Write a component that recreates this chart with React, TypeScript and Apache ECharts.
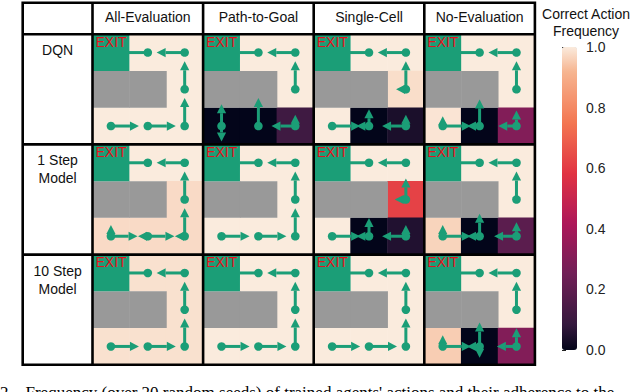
import React, { useEffect, useRef } from 'react';
import * as echarts from 'echarts';

// ---------- data ----------
const evaluations = ['All-Evaluation', 'Path-to-Goal', 'Single-Cell', 'No-Evaluation'];
const models = ['DQN', '1 Step\nModel', '10 Step\nModel'];

// maze cells as [column, row] (row 0 = top)
const openCells = [[1, 0], [2, 0], [2, 1], [0, 2], [1, 2], [2, 2]];
const wallCells = [[0, 1], [1, 1]];
const exitCells = [[0, 0]];

// correct action frequency for each open cell, one list per evaluation
const dqnValues = [
  [1, 1, 1, 1, 1, 1],
  [1, 1, 1, 0.0, 0.0, 0.11],
  [1, 1, 0.98, 1, 0.0, 0.04],
  [1, 1, 1, 0.99, 0.0, 0.3],
];
const oneStepValues = [
  [1, 1, 0.975, 0.975, 0.975, 0.975],
  [1, 1, 1, 1, 1, 1],
  [1, 1, 0.62, 1, 0.0, 0.05],
  [1, 1, 1, 0.965, 0.0, 0.19],
];
const tenStepValues = [
  [0.985, 0.985, 0.985, 0.985, 0.985, 0.985],
  [1, 1, 1, 1, 1, 1],
  [1, 1, 1, 1, 1, 1],
  [1, 1, 1, 0.955, 0.0, 0.3],
];

// action frequencies [up, down, left, right] for each open cell
const idealActions = [[0, 0, 1, 0], [0, 0, 1, 0], [1, 0, 0, 0], [0, 0, 0, 1], [0, 0, 0, 1], [1, 0, 0, 0]];
const dqnActions = [
  idealActions,
  [[0, 0, 1, 0], [0, 0, 1, 0], [1, 0, 0, 0], [0.78, 0.55, 0, 0], [1, 0, 0, 0], [0.4, 0, 0.85, 0]],
  [[0, 0, 1, 0], [0, 0, 1, 0], [1, 0, 0.35, 0], [0, 0, 0, 1], [0.6, 0, 0.45, 0], [0.4, 0, 0.85, 0]],
  [[0, 0, 1, 0], [0, 0, 1, 0], [1, 0, 0, 0], [0.35, 0, 0, 1], [0.95, 0, 0.45, 0], [0.55, 0, 0.65, 0]],
];
const oneStepActions = [
  [[0, 0, 1, 0], [0, 0, 1, 0], [1, 0, 0, 0], [0.4, 0, 0, 0.95], [0, 0, 0.35, 0.95], [1, 0, 0.35, 0]],
  idealActions,
  [[0, 0, 1, 0], [0, 0, 1, 0], [0.75, 0, 0.4, 0], [0, 0, 0, 1], [0.65, 0, 0.45, 0], [0.4, 0, 0.85, 0]],
  [[0, 0, 1, 0], [0, 0, 1, 0], [1, 0, 0, 0], [0.4, 0, 0, 1], [0.8, 0, 0.45, 0], [0.5, 0, 0.8, 0]],
];
const tenStepActions = [
  idealActions,
  idealActions,
  idealActions,
  [[0, 0, 1, 0], [0, 0, 1, 0], [1, 0, 0, 0], [0.4, 0, 0, 1], [0.85, 0.4, 0.45, 0], [0.65, 0, 0.7, 0]],
];

const modelValues = [dqnValues, oneStepValues, tenStepValues];
const modelActions = [dqnActions, oneStepActions, tenStepActions];

const colorbarTitle = 'Correct Action\nFrequency';
const caption = "2.   Frequency (over 20 random seeds) of trained agents' actions and their adherence to the";

// ---------- style ----------
const FONT = '"Liberation Sans", Arial, Helvetica, sans-serif';
const GREEN = '#1b9e77';
const GRAY = '#999999';
const ROCKET = ['#03051a', '#35193e', '#531c4a', '#701f57', '#8e1b58', '#ad1759', '#c7254e',
  '#e13342', '#ea554a', '#f37651', '#f59570', '#f6b48f', '#faebdd'];

const TABLE_L = 22.7;
const TABLE_T = 2.7;
const PANEL_L = 92.5;
const PANEL_T = 34.2;
const PANEL_W = 110.6;
const PANEL_H = 110.2;

function wallRender(params: any, api: any) {
  const c = api.coord([api.value(0), api.value(1)]);
  const s = api.size([1, 1]);
  return {
    type: 'rect',
    shape: { x: c[0] - s[0] / 2, y: c[1] - s[1] / 2, width: s[0] + 0.5, height: s[1] },
    style: { fill: GRAY },
  };
}

function exitRender(params: any, api: any) {
  const c = api.coord([api.value(0), api.value(1)]);
  const s = api.size([1, 1]);
  const x0 = c[0] - s[0] / 2;
  const y0 = c[1] - s[1] / 2;
  return {
    type: 'group',
    children: [
      { type: 'rect', shape: { x: x0, y: y0, width: s[0], height: s[1] }, style: { fill: GREEN } },
      {
        type: 'text',
        x: x0 + 3,
        y: y0 + 0.5,
        style: { text: 'EXIT', fill: '#e4111b', fontSize: 14, fontFamily: FONT, align: 'left', verticalAlign: 'top' },
      },
    ],
  };
}

function arrowRender(params: any, api: any) {
  const c = api.coord([api.value(0), api.value(1)]);
  const s = api.size([1, 1]);
  const L = 0.76 * s[0];
  const freqs = [api.value(2), api.value(3), api.value(4), api.value(5)];
  const dirs = [[0, -1], [0, 1], [-1, 0], [1, 0]];
  const children: any[] = [];
  dirs.forEach((d, k) => {
    const f = freqs[k];
    if (!(f > 0)) return;
    const len = f * L;
    const hl = Math.min(9, len);
    const hw = 4.6 * Math.min(1, Math.sqrt(len / 9));
    const tip = [c[0] + d[0] * len, c[1] + d[1] * len];
    const base = [tip[0] - d[0] * hl, tip[1] - d[1] * hl];
    const perp = [-d[1], d[0]];
    if (len > hl) {
      children.push({
        type: 'line',
        shape: { x1: c[0], y1: c[1], x2: base[0], y2: base[1] },
        style: { stroke: GREEN, lineWidth: 3 },
      });
    }
    children.push({
      type: 'polygon',
      shape: {
        points: [
          tip,
          [base[0] + perp[0] * hw, base[1] + perp[1] * hw],
          [base[0] - perp[0] * hw, base[1] - perp[1] * hw],
        ],
      },
      style: { fill: GREEN },
    });
  });
  children.push({ type: 'circle', shape: { cx: c[0], cy: c[1], r: 4.3 }, style: { fill: GREEN } });
  return { type: 'group', children };
}

function buildOption() {
  const grid: any[] = [];
  const xAxis: any[] = [];
  const yAxis: any[] = [];
  const heatSeries: any[] = [];
  const overlaySeries: any[] = [];
  const cats = ['0', '1', '2'];

  models.forEach((m, j) => {
    evaluations.forEach((e, i) => {
      const idx = j * 4 + i;
      grid.push({ left: PANEL_L + i * PANEL_W, top: PANEL_T + j * PANEL_H, width: PANEL_W, height: PANEL_H });
      xAxis.push({ type: 'category', data: cats, gridIndex: idx, show: false });
      yAxis.push({ type: 'category', data: cats, gridIndex: idx, show: false, inverse: true });
      const vals = modelValues[j][i];
      const acts = modelActions[j][i];
      heatSeries.push({
        type: 'heatmap',
        xAxisIndex: idx,
        yAxisIndex: idx,
        z: 1,
        data: openCells.map((cell, k) => [cell[0], cell[1], vals[k]]),
        emphasis: { disabled: true },
        silent: true,
      });
      overlaySeries.push({
        type: 'custom',
        xAxisIndex: idx,
        yAxisIndex: idx,
        z: 2,
        silent: true,
        data: wallCells,
        renderItem: wallRender,
      });
      overlaySeries.push({
        type: 'custom',
        xAxisIndex: idx,
        yAxisIndex: idx,
        z: 3,
        silent: true,
        data: openCells.map((cell, k) => [cell[0], cell[1], ...acts[k]]),
        renderItem: arrowRender,
      });
      overlaySeries.push({
        type: 'custom',
        xAxisIndex: idx,
        yAxisIndex: idx,
        z: 4,
        silent: true,
        data: exitCells,
        renderItem: exitRender,
      });
    });
  });

  // colorbar axis
  const cbIdx = grid.length;
  grid.push({ left: 562, top: 47, width: 15, height: 303 });
  xAxis.push({ type: 'value', gridIndex: cbIdx, show: false, min: 0, max: 1 });
  yAxis.push({
    type: 'value',
    gridIndex: cbIdx,
    min: 0,
    max: 1,
    interval: 0.2,
    position: 'right',
    axisLine: { show: false },
    axisTick: { show: true, length: 4, lineStyle: { color: '#222', width: 1 } },
    axisLabel: { margin: 9, fontSize: 14, color: '#222', fontFamily: FONT, formatter: (v: number) => v.toFixed(1) },
    splitLine: { show: false },
  });

  const graphic: any[] = [];
  const tableR = PANEL_L + 4 * PANEL_W;
  const tableB = PANEL_T + 3 * PANEL_H;
  evaluations.forEach((e, i) => {
    graphic.push({
      type: 'text',
      x: PANEL_L + (i + 0.5) * PANEL_W,
      y: 17,
      z: 20,
      style: { text: e, fontSize: 14, fontFamily: FONT, fill: '#111', align: 'center', verticalAlign: 'middle' },
    });
  });
  models.forEach((m, j) => {
    graphic.push({
      type: 'text',
      x: (TABLE_L + PANEL_L) / 2,
      y: PANEL_T + j * PANEL_H + 7,
      z: 20,
      style: { text: m, fontSize: 14, lineHeight: 18, fontFamily: FONT, fill: '#111', align: 'center', verticalAlign: 'top' },
    });
  });
  graphic.push({
    type: 'text',
    x: 586,
    y: 5,
    z: 20,
    style: { text: colorbarTitle, fontSize: 14, lineHeight: 17, fontFamily: FONT, fill: '#111', align: 'center', verticalAlign: 'top' },
  });
  graphic.push({
    type: 'text',
    x: 0,
    y: 384,
    z: 20,
    style: { text: caption, fontSize: 17, fontFamily: '"Liberation Serif", "Times New Roman", serif', fill: '#000', align: 'left', verticalAlign: 'top' },
  });
  // table frame
  const lineStyle = { stroke: '#000', lineWidth: 2.6 };
  graphic.push({
    type: 'rect',
    z: 30,
    shape: { x: TABLE_L, y: TABLE_T, width: tableR - TABLE_L, height: tableB - TABLE_T },
    style: { fill: 'none', ...lineStyle },
  });
  for (let j = 0; j < 3; j++) {
    const y = PANEL_T + j * PANEL_H;
    graphic.push({ type: 'line', z: 30, shape: { x1: TABLE_L, y1: y, x2: tableR, y2: y }, style: lineStyle });
  }
  for (let i = 0; i < 4; i++) {
    const x = PANEL_L + i * PANEL_W;
    graphic.push({ type: 'line', z: 30, shape: { x1: x, y1: TABLE_T, x2: x, y2: tableB }, style: lineStyle });
  }

  return {
    animation: false,
    backgroundColor: '#ffffff',
    textStyle: { fontFamily: FONT },
    grid,
    xAxis,
    yAxis,
    visualMap: {
      type: 'continuous',
      min: 0,
      max: 1,
      seriesIndex: heatSeries.map((_, k) => k),
      left: 562,
      top: 47,
      padding: 0,
      itemWidth: 15,
      itemHeight: 303,
      calculable: false,
      hoverLink: false,
      inRange: { color: ROCKET },
    },
    series: [...heatSeries, ...overlaySeries],
    graphic,
  };
}

export default function App() {
  const ref = useRef<HTMLDivElement>(null);
  useEffect(() => {
    if (!ref.current) return;
    const chart = echarts.init(ref.current, undefined, { renderer: 'svg' });
    chart.setOption(buildOption() as any);
    return () => chart.dispose();
  }, []);
  return (
    <div
      ref={ref}
      style={{ position: 'fixed', left: 0, top: 0, width: 640, height: 392, background: '#fff' }}
    />
  );
}
